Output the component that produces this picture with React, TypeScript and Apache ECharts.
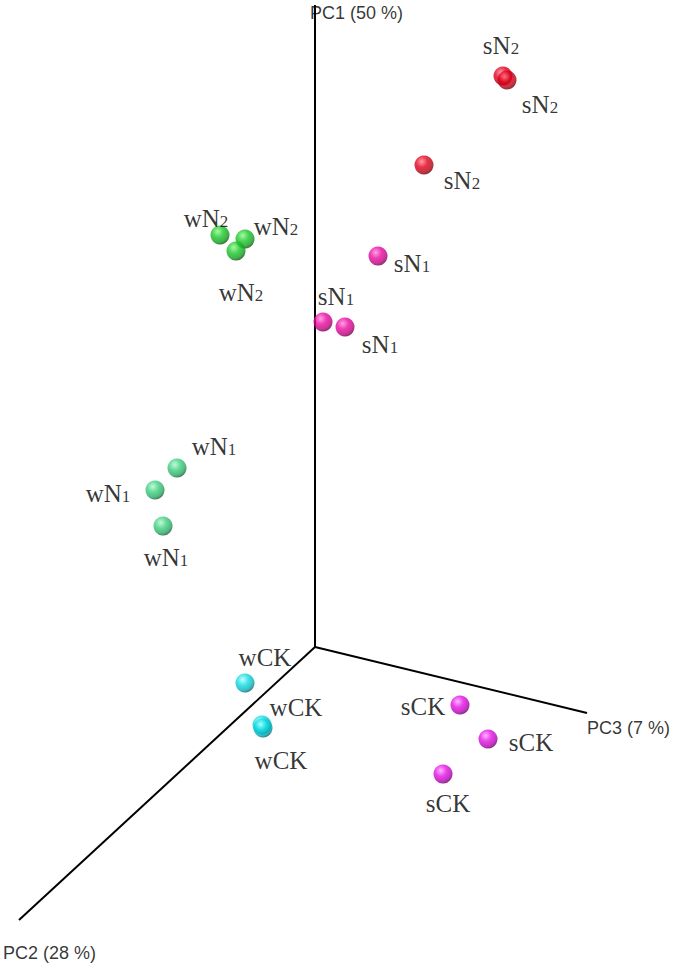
import React, { useEffect, useRef } from "react";
import * as echarts from "echarts";

// Projected PCA scores (screen-plane projection units; origin = axes origin)
const sN2Points = [[188, 571], [192, 567], [109, 482]];
const sN1Points = [[63, 391], [8, 325], [30, 320]];
const wN2Points = [[-95, 412], [-70, 408], [-79, 396]];
const wN1Points = [[-138, 179], [-160, 157], [-152, 121]];
const wCKPoints = [[-70, -36], [-53, -78], [-52, -81]];
const sCKPoints = [[145, -58], [173, -92], [128, -127]];

// Axis end points (projection of the three PC axes)
const pc1End = [0, 642];
const pc2End = [-296, -273];
const pc3End = [272, -66];
const axisNames = ["PC1 (50 %)", "PC2 (28 %)", "PC3 (7 %)"];

// label placement (pixel offsets from each sphere)
const labelOffsets: Record<string, number[][]> = {
  sN2: [[-2, -31], [33, 24], [38, 15]],
  sN1: [[34, 7], [13, -26], [35, 17]],
  wN2: [[-14, -17], [31, -13], [5, 41]],
  wN1: [[37, -22], [-47, 3], [3, 31]],
  wCK: [[20, -26], [34, -18], [18, 32]],
  sCK: [[-37, 1], [43, 3], [5, 29]],
};
const axisLabelOffsets = [[-5, 8], [-16, 33], [0, 15]];

const groups = [
  { key: "sN2", main: "s", base: "N", sub: "2", pts: sN2Points, colors: ["#ff8090", "#e2001c", "#b80012", "#4a0008"] },
  { key: "sN1", main: "s", base: "N", sub: "1", pts: sN1Points, colors: ["#ff88dc", "#ea0aa2", "#c0007e", "#4a0034"] },
  { key: "wN2", main: "w", base: "N", sub: "2", pts: wN2Points, colors: ["#90f890", "#1cc82a", "#10a01c", "#053a08"] },
  { key: "wN1", main: "w", base: "N", sub: "1", pts: wN1Points, colors: ["#b0f8d0", "#40d080", "#26a862", "#0e4426"] },
  { key: "wCK", main: "w", base: "CK", sub: "", pts: wCKPoints, colors: ["#b0ffff", "#10dce4", "#08b0b8", "#03484c"] },
  { key: "sCK", main: "s", base: "CK", sub: "", pts: sCKPoints, colors: ["#ffa0ff", "#e412e4", "#b800b8", "#480048"] },
];

export default function App() {
  const ref = useRef<HTMLDivElement>(null);
  useEffect(() => {
    if (!ref.current) return;
    const chart = echarts.init(ref.current, null, { renderer: "svg" });

    const sphere = (c: string[]) => ({
      type: "radial",
      x: 0.38,
      y: 0.32,
      r: 0.75,
      colorStops: [
        { offset: 0, color: c[0] },
        { offset: 0.4, color: c[1] },
        { offset: 0.75, color: c[2] },
        { offset: 1, color: c[3] },
      ],
    });

    const axisSeries = [pc1End, pc2End, pc3End].map((end, i) => ({
      type: "line",
      name: "axis" + i,
      data: [[0, 0], end],
      symbol: "none",
      silent: true,
      z: 1,
      lineStyle: { color: "#000", width: 2 },
    }));

    const axisTitleSeries = {
      type: "scatter",
      name: "axisTitles",
      symbolSize: 0,
      silent: true,
      z: 1,
      data: [pc1End, pc2End, pc3End].map((end, i) => ({
        value: end,
        name: axisNames[i],
        label: { offset: axisLabelOffsets[i] },
      })),
      label: {
        show: true,
        position: "inside",
        align: "left",
        verticalAlign: "middle",
        formatter: (p: any) => p.name,
        fontFamily: "Liberation Sans, Arial, sans-serif",
        fontSize: 18,
        color: "#000",
      },
    };

    const serif = "Liberation Serif, Times New Roman, serif";
    const pointSeries = groups.map((g) => ({
      type: "scatter",
      name: g.key,
      symbol: "circle",
      symbolSize: 19,
      z: 3,
      itemStyle: { color: sphere(g.colors) },
      data: g.pts.map((p, i) => ({
        value: p,
        label: { offset: labelOffsets[g.key][i] },
      })),
      label: {
        show: true,
        position: "inside",
        formatter: g.sub ? `{m|${g.main}${g.base}}{s|${g.sub}}` : `{m|${g.main}${g.base}}`,
        rich: {
          m: { fontFamily: serif, fontSize: 25, color: "#000", lineHeight: 27 },
          s: { fontFamily: serif, fontSize: 17, color: "#000", padding: [6, 0, 0, 0] },
        },
      },
    }));

    chart.setOption({
      animation: false,
      backgroundColor: "#ffffff",
      grid: { left: 0, right: 0, top: 0, bottom: 0, containLabel: false },
      xAxis: { type: "value", min: -315, max: 360, show: false },
      yAxis: { type: "value", min: -318, max: 647, show: false },
      series: [...axisSeries, axisTitleSeries, ...pointSeries],
    } as any);

    return () => chart.dispose();
  }, []);

  return (
    <div
      ref={ref}
      style={{ position: "fixed", left: 0, top: 0, width: 675, height: 965, background: "#fff" }}
    />
  );
}
